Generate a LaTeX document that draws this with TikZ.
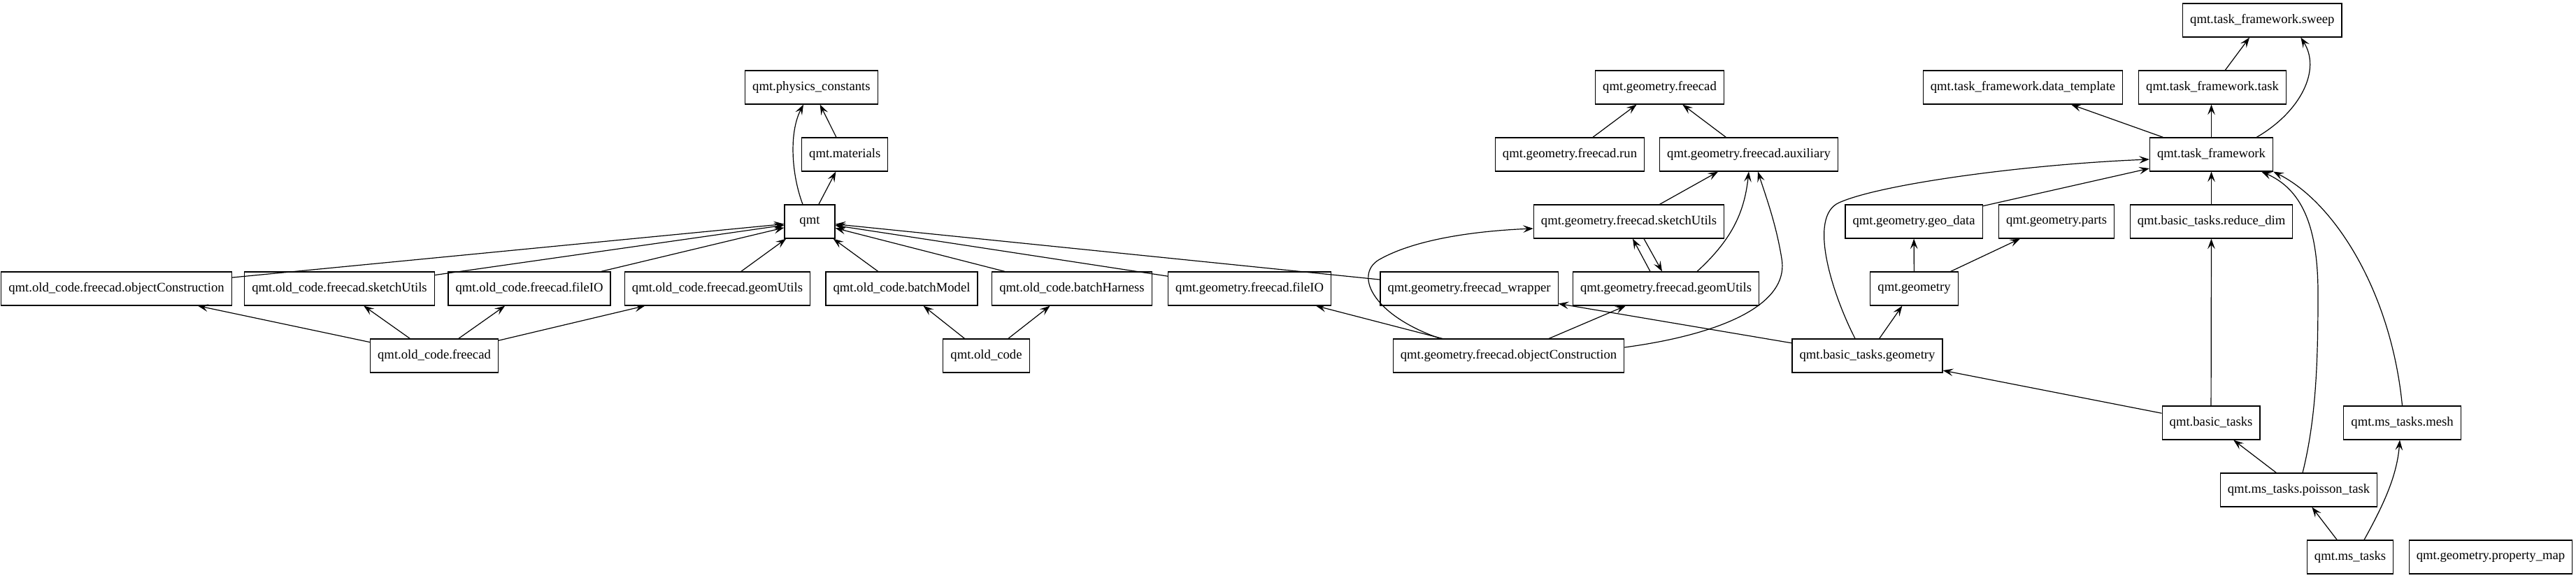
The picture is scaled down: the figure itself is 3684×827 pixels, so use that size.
\documentclass[tikz,border=0pt]{standalone}
\usepackage{fontspec}
\setmainfont{Liberation Serif}
\usetikzlibrary{arrows.meta,calc}
\begin{document}
\begin{tikzpicture}[x=0.75pt,y=0.75pt,
  mod/.style={draw,line width=0.9pt,rectangle,minimum height=36pt,minimum width=54pt,inner xsep=7.92pt,inner ysep=0pt,font=\fontsize{14}{16}\selectfont},
  arr/.style={line width=0.9pt,-{Stealth[length=11pt,width=8pt,inset=4.5pt]}}]
\fill[white] (0,0) rectangle (3684,-827);
\useasboundingbox (0,0) rectangle (3684,-827);
% nodes
\node[mod,anchor=west] (sweep) at (3121,-29) {qmt.task\_framework.sweep};
\node[mod,anchor=west] (phys) at (1065,-125) {qmt.physics\_constants};
\node[mod] (gfc) at (2373.5,-125) {qmt.geometry.freecad};
\node[mod] (dtmpl) at (2893,-125) {qmt.task\_framework.data\_template};
\node[mod,anchor=west] (tftask) at (3058,-125) {qmt.task\_framework.task};
\node[mod,anchor=west] (mat) at (1146,-221) {qmt.materials};
\node[mod] (run) at (2245,-221) {qmt.geometry.freecad.run};
\node[mod] (aux) at (2501,-221) {qmt.geometry.freecad.auxiliary};
\node[mod] (tf) at (3162.5,-221) {qmt.task\_framework};
\node[mod] (qmt) at (1158,-317) {qmt};
\node[mod] (gsk) at (2329.5,-317) {qmt.geometry.freecad.sketchUtils};
\node[mod] (geodata) at (2737,-317) {qmt.geometry.geo\_data};
\node[mod] (parts) at (2941,-317) {qmt.geometry.parts};
\node[mod] (rdim) at (3162.5,-317) {qmt.basic\_tasks.reduce\_dim};
\node[mod] (ooc) at (166.5,-413) {qmt.old\_code.freecad.objectConstruction};
\node[mod] (osk) at (485.5,-413) {qmt.old\_code.freecad.sketchUtils};
\node[mod] (ofio) at (757,-413) {qmt.old\_code.freecad.fileIO};
\node[mod] (ogu) at (1026,-413) {qmt.old\_code.freecad.geomUtils};
\node[mod] (bmod) at (1289.5,-413) {qmt.old\_code.batchModel};
\node[mod] (bhar) at (1533,-413) {qmt.old\_code.batchHarness};
\node[mod,anchor=west] (gfio) at (1670,-413) {qmt.geometry.freecad.fileIO};
\node[mod] (wrap) at (2101,-413) {qmt.geometry.freecad\_wrapper};
\node[mod] (ggu) at (2382.5,-413) {qmt.geometry.freecad.geomUtils};
\node[mod] (geom) at (2737.5,-413) {qmt.geometry};
\node[mod] (ofc) at (621,-509) {qmt.old\_code.freecad};
\node[mod] (oldc) at (1410.5,-509) {qmt.old\_code};
\node[mod] (goc) at (2157.5,-509) {qmt.geometry.freecad.objectConstruction};
\node[mod] (btg) at (2670.5,-509) {qmt.basic\_tasks.geometry};
\node[mod] (bt) at (3162,-605) {qmt.basic\_tasks};
\node[mod] (mesh) at (3435.5,-605) {qmt.ms\_tasks.mesh};
\node[mod] (pois) at (3287.5,-701) {qmt.ms\_tasks.poisson\_task};
\node[mod] (mst) at (3361,-797) {qmt.ms\_tasks};
\node[mod] (pmap) at (3562,-797) {qmt.geometry.property\_map};
% edges
\draw[arr] ($(qmt.north)+(-10,0)$) .. controls (1132,-250) and (1128,-190) .. ($(phys.south west)+(84,0)$);
\draw[arr] (qmt) -- (mat);
\draw[arr] (mat) -- (phys);
\foreach \s in {ooc,osk,ofio,ogu,bmod,bhar,gfio,wrap} \draw[arr] (\s) -- (qmt);
\foreach \t in {ooc,osk,ofio,ogu} \draw[arr] (ofc) -- (\t);
\draw[arr] (oldc) -- (bmod);
\draw[arr] (oldc) -- (bhar);
\draw[arr] (run) -- (gfc);
\draw[arr] (aux) -- (gfc);
\draw[arr] (gsk) -- (aux);
\draw[arr] ($(ggu.north)+(44.5,0)$) .. controls (2480,-340) and (2495,-300) .. (aux.south);
\draw[arr] ($(goc.east)+(0,12)$) .. controls (2450,-480) and (2560,-440) .. (2548,-370) .. controls (2540,-320) and (2525,-280) .. ($(aux.south)+(13,0)$);
\draw[arr] ($(ggu.north)+(-22.5,0)$) -- ($(gsk.south)+(5.5,0)$);
\draw[arr] ($(gsk.south)+(21.5,0)$) -- ($(ggu.north)+(-5.5,0)$);
\draw[arr] ($(goc.north west)+(68,0)$) .. controls (1960,-450) and (1935,-390) .. (1975,-370) .. controls (2030,-340) and (2120,-330) .. ($(gsk.west)+(0,-10)$);
\draw[arr] (goc) -- (ggu);
\draw[arr] (goc) -- (gfio);
\draw[arr] (btg) -- (wrap);
\draw[arr] (btg) -- (geom);
\draw[arr] ($(btg.north)+(-17.5,0)$) .. controls (2620,-420) and (2585,-310) .. (2630,-290) .. controls (2690,-263) and (2900,-235) .. ($(tf.west)+(0,-7)$);
\draw[arr] (geodata) -- (tf);
\draw[arr] (geom) -- (geodata);
\draw[arr] (geom) -- (parts);
\draw[arr] (tf) -- (dtmpl);
\draw[arr] (tf.north) -- (tf.north |- tftask.south);
\draw[arr] (tftask) -- (sweep);
\draw[arr] ($(tf.north east)+(-24,0)$) .. controls (3290,-160) and (3320,-100) .. ($(sweep.south)+(55,0)$);
\draw[arr] (rdim) -- (tf);
\draw[arr] (bt) -- (rdim);
\draw[arr] (bt) -- (btg);
\draw[arr] (pois) -- (bt);
\draw[arr] (mst) -- (pois);
\draw[arr] ($(pois.north)+(5.5,0)$) .. controls (3312,-600) and (3315,-520) .. (3315,-420) .. controls (3315,-320) and (3290,-270) .. ($(tf.south east)+(-17,0)$);
\draw[arr] (mesh.north) .. controls (3420,-420) and (3340,-290) .. (tf.south east);
\draw[arr] ($(mst.north)+(20,0)$) .. controls (3410,-720) and (3428,-680) .. ($(mesh.south)+(-3.5,0)$);
\end{tikzpicture}
\end{document}
